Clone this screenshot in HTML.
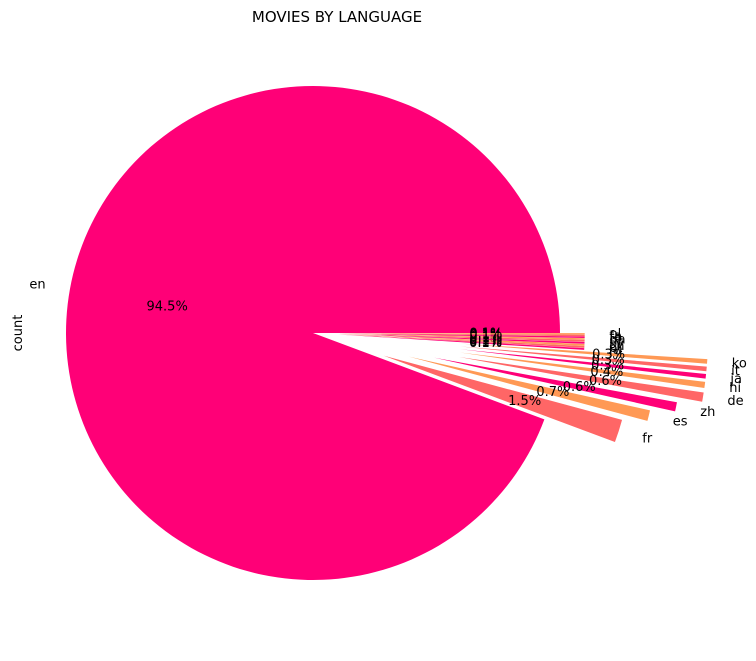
<!DOCTYPE html>
<html><head><meta charset="utf-8"><style>
body{margin:0;background:#fff}
svg{font-family:"DejaVu Sans","Liberation Sans",sans-serif}
</style></head><body>
<svg id="chart" width="756" height="656">
<text x="337" y="22" font-size="15" text-anchor="middle">MOVIES BY LANGUAGE</text>
<text x="22" y="333" font-size="13" text-anchor="middle" transform="rotate(-90 22 333)">count</text>
<g id="slices"></g>
</svg>
<script>
const labels=["en","fr","es","zh","de","hi","ja","it","ko","ru","pt","cn","sv","nl","da","ta","fa","pl"];
const values=[94.5,1.5,0.7,0.6,0.6,0.4,0.3,0.3,0.3,0.12,0.12,0.12,0.12,0.12,0.1,0.1,0.1,0.1];
const explode=[0,0.3,0.4,0.5,0.6,0.6,0.6,0.6,0.6,0.1,0.1,0.1,0.1,0.1,0.1,0.1,0.1,0.1];
const colors=["#ff0077","#ff6666","#ff9955"];
const cx=313,cy=333,R=247;
const g=document.getElementById('slices');
const total=values.reduce((a,b)=>a+b,0);
const NS="http://www.w3.org/2000/svg";
let a0=0;
values.forEach((v,i)=>{
  const a1=a0+v/total*2*Math.PI;
  const mid=(a0+a1)/2;
  const ox=cx+explode[i]*R*Math.cos(mid), oy=cy-explode[i]*R*Math.sin(mid);
  const p=(a)=>[ox+R*Math.cos(a),oy-R*Math.sin(a)];
  const [x0,y0]=p(a0),[x1,y1]=p(a1);
  const large=(a1-a0)>Math.PI?1:0;
  const path=document.createElementNS(NS,'path');
  path.setAttribute('d',`M${ox},${oy}L${x0},${y0}A${R},${R} 0 ${large} 0 ${x1},${y1}Z`);
  path.setAttribute('fill',colors[i%3]);
  
  
  g.appendChild(path);
  const lx=ox+1.1*R*Math.cos(mid), ly=oy-1.1*R*Math.sin(mid);
  const t=document.createElementNS(NS,'text');
  t.setAttribute('x',lx);t.setAttribute('y',ly+4);t.setAttribute('font-size','13');
  t.setAttribute('text-anchor',Math.cos(mid)>=0?'start':'end');
  t.textContent=labels[i];
  
  
  g.appendChild(t);
  const px=ox+0.6*R*Math.cos(mid), py=oy-0.6*R*Math.sin(mid);
  const q=document.createElementNS(NS,'text');
  q.setAttribute('x',px);q.setAttribute('y',py+4);q.setAttribute('font-size','13');
  q.setAttribute('text-anchor','middle');
  q.textContent=v.toFixed(1)+'%';
  
  
  g.appendChild(q);
  a0=a1;
});
</script>
</body></html>
